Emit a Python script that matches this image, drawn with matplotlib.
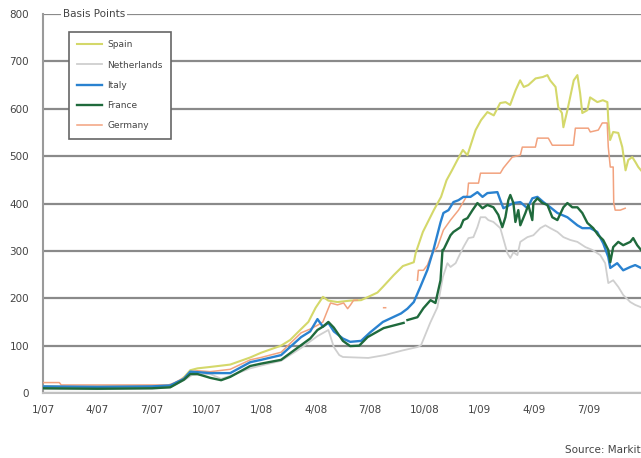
import numpy as np
import matplotlib
matplotlib.use("Agg")
import matplotlib.pyplot as plt

nan = np.nan

# x values are months since January 2007
spain_m = [0, 2, 4, 6, 7.0, 7.5, 7.8, 8.1, 8.5, 9.2, 10.3, 11.4, 12.0, 13.1, 13.6, 14.2, 14.6, 15.0, 15.4, 15.7,
           16.2, 16.9, 17.5, 17.9, 18.4, 18.7, 19.3, 19.8, 20.4, 20.5, 20.9, 21.5, 21.9, 22.2, 22.5, 22.8, 23.1,
           23.35, 23.8, 24.1, 24.45, 24.8, 25.15, 25.45, 25.7, 26.0, 26.25, 26.45, 26.7, 27.1, 27.5, 27.75, 27.9,
           28.2, 28.35, 28.55, 28.63, 28.85, 29.0, 29.2, 29.4, 29.55, 29.67, 29.95, 30.1, 30.5, 30.8, 31.05, 31.1,
           31.2, 31.37, 31.65, 31.87, 32.05, 32.2, 32.42, 32.6, 32.75, 32.9]
spain_v = [14, 13, 14, 14, 16, 25, 35, 48, 52, 55, 60, 75, 85, 100, 112, 135, 150, 180, 203, 195,
           192, 195, 196, 203, 212, 224, 249, 268, 276, 295, 340, 386, 414, 449, 470, 492, 513,
           502, 555, 576, 593, 586, 612, 614, 608, 639, 660, 646, 650, 664, 667, 671, 660,
           646, 603, 591, 561, 597, 624, 660, 671, 633, 591, 597, 624, 614, 618, 614, 576,
           534, 551, 549, 519, 470, 492, 498, 487, 477, 470]

neth_m = [0, 3, 6, 7.0, 7.8, 8.2, 9.2, 9.8, 10.3, 11.4, 12.0, 13.1, 14.2, 15.1, 15.7, 16.0, 16.3, 16.5, 17.9,
          18.8, 19.8, 20.6, 20.8, 21.3, 21.7, 22.0, 22.25, 22.42, 22.7, 22.86, 23.13, 23.41, 23.68, 23.9, 24.07,
          24.34, 24.5, 24.78, 25.16, 25.55, 25.71, 25.88, 26.1, 26.26, 26.65, 26.98, 27.36, 27.64, 27.91, 28.3,
          28.63, 29.01, 29.4, 29.84, 30.22, 30.66, 30.93, 31.1, 31.37, 31.65, 31.92, 32.31, 32.58, 32.9]
neth_v = [8, 8, 9, 12, 28, 38, 40, 30, 36, 52, 58, 68, 95, 120, 133, 97, 80, 76, 74,
          80, 90, 97, 101, 148, 181, 245, 274, 266, 274, 287, 308, 327, 329, 350, 371,
          371, 365, 361, 348, 295, 285, 297, 291, 319, 329, 333, 348, 354, 348, 340,
          329, 323, 319, 308, 302, 291, 274, 232, 238, 224, 207, 192, 186, 181]

italy_m = [0, 3, 6, 7.0, 7.75, 8.1, 8.5, 9.2, 10.3, 11.4, 12.0, 13.1, 14.2, 14.7, 15.1, 15.4, 15.7, 16.0, 16.5,
           16.9, 17.5, 18.0, 18.7, 19.7, 20.05, 20.4, 20.77, 21.15, 21.48, 21.87, 22.03, 22.31, 22.58, 22.86,
           23.13, 23.52, 23.9, 24.18, 24.45, 25.0, 25.16, 25.33, 25.88, 26.26, 26.65, 26.92, 27.2, 27.53, 27.91,
           28.3, 28.85, 29.4, 29.67, 30.11, 30.49, 30.82, 31.1, 31.21, 31.59, 31.92, 32.31, 32.58, 32.9]
italy_v = [14, 13, 14, 16, 30, 45, 44, 42, 42, 65, 70, 80, 118, 130, 156, 140, 148, 130, 115,
           108, 110, 128, 150, 168, 178, 192, 225, 260, 302, 360, 380, 386, 403, 407,
           414, 414, 424, 414, 422, 424, 407, 390, 401, 403, 390, 411, 414, 403, 392,
           380, 371, 354, 348, 348, 340, 316, 287, 264, 274, 259, 266, 270, 264]

france_m = [0, 3, 6, 7.0, 7.75, 8.1, 8.5, 9.2, 9.8, 10.3, 11.4, 12.0, 13.1, 14.2, 14.7, 15.1, 15.4, 15.7, 16.0,
            16.5, 16.9, 17.4, 17.86, 18.74, 19.84, 19.95, 20.05, 20.6, 20.93, 21.32, 21.59, 21.87, 21.98, 22.03,
            22.42, 22.58, 22.97, 23.13, 23.35, 23.63, 23.9, 24.18, 24.45, 24.78, 25.05, 25.27, 25.44, 25.6,
            25.71, 25.88, 25.99, 26.15, 26.26, 26.54, 26.7, 26.92, 26.98, 27.2, 27.47, 27.75, 28.02, 28.3,
            28.63, 28.85, 29.12, 29.4, 29.67, 29.95, 30.27, 30.55, 30.82, 31.1, 31.21, 31.37, 31.65, 31.92,
            32.31, 32.47, 32.69, 32.9]
france_v = [10, 9, 10, 12, 28, 40, 40, 32, 27, 34, 57, 62, 70, 101, 115, 133, 140, 150, 138,
            110, 99, 100, 118, 137, 148, nan, 154, 160, 179, 196, 190, 238, 302, 302,
            333, 340, 350, 365, 369, 386, 401, 390, 397, 392, 376, 350, 371, 407,
            418, 401, 361, 386, 354, 380, 397, 365, 401, 411, 401, 397, 371, 365,
            392, 401, 392, 392, 380, 359, 348, 333, 323, 302, 276, 308, 319, 312,
            319, 327, 312, 302]

germany_m = [0, 0.9, 1.0, 3.9, 6.9, 7.2, 7.75, 8.1, 8.5, 9.2, 10.3, 11.4, 12.0, 13.1, 14.2, 14.7, 15.1, 15.4,
             15.66, 15.82, 16.2, 16.54, 16.76, 16.92, 17.09, 17.3, 18.0, 18.74, 18.85, 19.5, 20.6, 20.65, 20.93,
             21.15, 21.32, 21.43, 21.7, 22.03, 22.42, 22.86, 23.35, 23.41, 23.96, 24.07, 25.16, 25.33, 25.82,
             26.26, 26.37, 27.09, 27.2, 27.8, 28.02, 29.18, 29.29, 30.0, 30.11, 30.55, 30.77, 31.04, 31.1,
             31.21, 31.37, 31.4, 31.48, 31.76, 32.03]
germany_v = [22, 22, 17, 17, 17, 21, 32, 45, 47, 45, 50, 70, 75, 86, 127, 135, 143, 150,
             175, 190, 186, 190, 178, 186, 196, 196, nan, 180, 180, nan, 238, 259, 259,
             270, 287, 295, 308, 344, 365, 386, 418, 443, 443, 464, 464, 475, 498,
             502, 519, 519, 538, 538, 523, 523, 559, 559, 551, 555, 570, 570, 519,
             477, 477, 401, 386, 386, 390]

y_ticks = [0, 100, 200, 300, 400, 500, 600, 700, 800]
x_tick_months = [0, 3, 6, 9, 12, 15, 18, 21, 24, 27, 30]
x_tick_labels = ["1/07", "4/07", "7/07", "10/07", "1/08", "4/08", "7/08", "10/08", "1/09", "4/09", "7/09"]

plt.rcParams['font.family'] = ['DejaVu Sans']

fig = plt.figure(figsize=(6.41, 4.58), dpi=100)
ax = fig.add_axes([43/641, 65/458, 598/641, 379/458])

series = [
    ("Netherlands", neth_m, neth_v, "#cfcfcf", 1.3, 2),
    ("Spain", spain_m, spain_v, "#d4d86a", 1.5, 3),
    ("Germany", germany_m, germany_v, "#f2a27e", 1.1, 4),
    ("Italy", italy_m, italy_v, "#2a82d0", 1.7, 5),
    ("France", france_m, france_v, "#1f6a3c", 1.7, 6),
]
handles = {}
for name, m, v, c, lw, z in series:
    h, = ax.plot(m, v, color=c, lw=lw, zorder=z, label=name)
    handles[name] = h

ax.set_xlim(0, 32.9)
ax.set_ylim(0, 800)
ax.set_yticks(y_ticks)
ax.set_xticks(x_tick_months)
ax.set_xticklabels(x_tick_labels)
ax.tick_params(axis='both', length=0, labelsize=7.5, labelcolor="#444444")
ax.tick_params(axis='x', pad=9)
ax.tick_params(axis='y', pad=10)
ax.yaxis.grid(True, color="#8a8a8a", lw=1.6)
ax.set_axisbelow(True)
for s in ["top", "right"]:
    ax.spines[s].set_visible(False)
ax.spines["left"].set_color("#9a9a9a")
ax.spines["left"].set_linewidth(1.5)
ax.spines["bottom"].set_color("#c0c0c0")
ax.spines["bottom"].set_linewidth(1.5)

ax.text(0.033, 1.0, "Basis Points", transform=ax.transAxes, fontsize=7.5, color="#444444",
        va="center", ha="left", zorder=10,
        bbox=dict(facecolor="white", edgecolor="none", pad=1.5))

order = ["Spain", "Netherlands", "Italy", "France", "Germany"]
leg = ax.legend([handles[n] for n in order], order, loc="upper left",
                bbox_to_anchor=(0.043, 0.952), fontsize=6.5, frameon=True, fancybox=False,
                edgecolor="#666666", framealpha=1.0, handlelength=2.8, handletextpad=0.6,
                labelspacing=1.25, borderpad=0.9, borderaxespad=0)
leg.get_frame().set_linewidth(1.2)
for t in leg.get_texts():
    t.set_color("#444444")
leg.set_zorder(10)

fig.text(0.999, 450/458 * 0 + 8/458, "Source: Markit", ha="right", va="center", fontsize=7.5, color="#444444")

fig.savefig("out.png", dpi=100)
